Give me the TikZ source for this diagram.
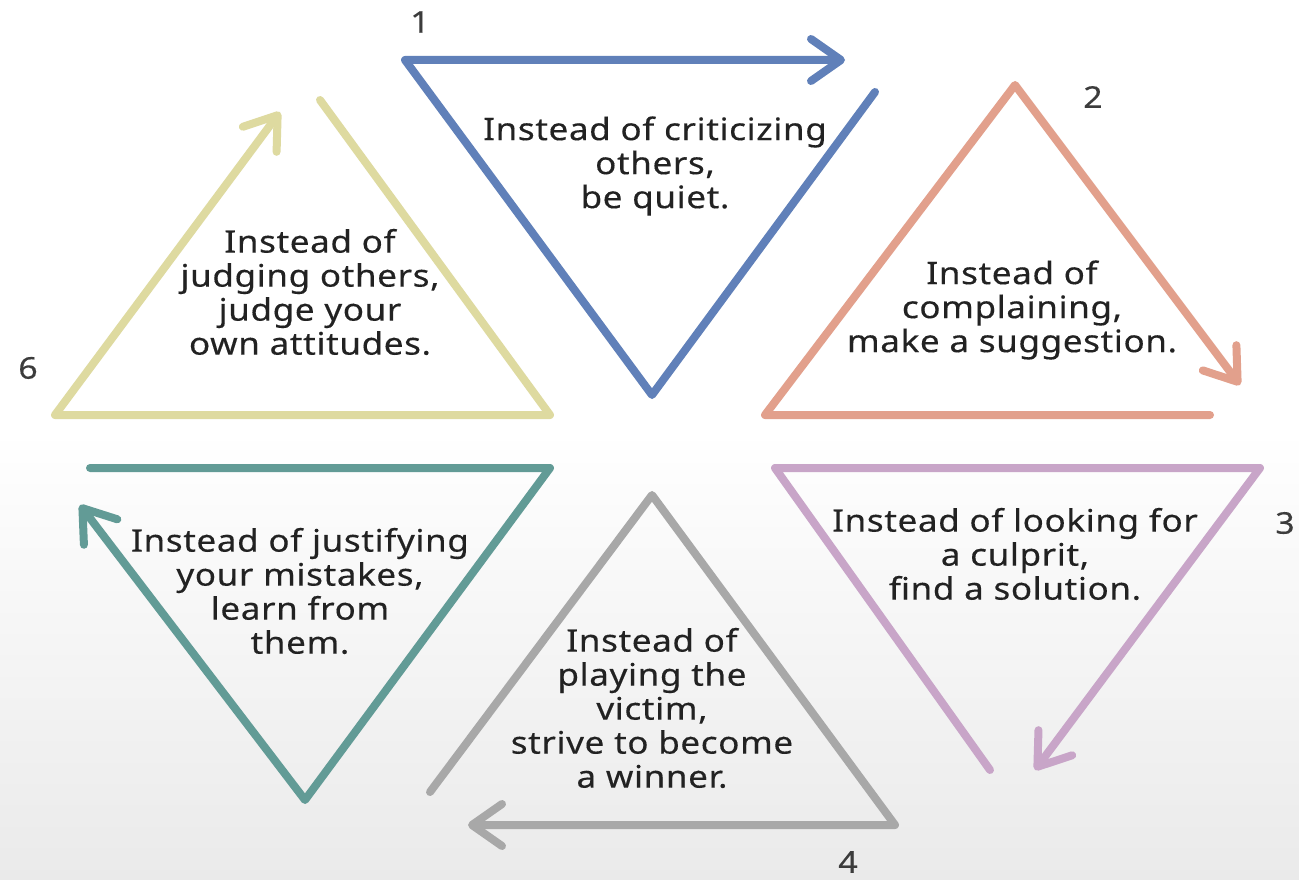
\documentclass[tikz,border=0pt]{standalone}
\usepackage{fontspec}
\setmainfont{Noto Sans}[FakeStretch=1.13,LetterSpace=2,FakeBold=0.3]
\usetikzlibrary{arrows.meta}
\definecolor{cBlue}{RGB}{96,128,185}
\definecolor{cOrange}{RGB}{226,160,140}
\definecolor{cPurple}{RGB}{200,165,200}
\definecolor{cGray}{RGB}{168,168,168}
\definecolor{cTeal}{RGB}{98,155,150}
\definecolor{cYellow}{RGB}{222,218,160}
\definecolor{cText}{RGB}{34,34,34}
\definecolor{cNum}{RGB}{60,60,60}
\definecolor{cBg}{RGB}{234,234,234}
\begin{document}
\begin{tikzpicture}[x=1pt,y=-1pt,
  edge/.style={line width=8pt,line cap=round,line join=round},
  arr/.style={edge,-{Straight Barb[length=30pt,width=42pt,round]}},
  txt/.style={align=center,text=cText,inner sep=0pt,font=\fontsize{31}{34}\selectfont},
  num/.style={text=cNum,inner sep=0pt,font=\fontsize{30}{34}\selectfont}]
\useasboundingbox (0,0) rectangle (1299,880);
\fill[white] (0,0) rectangle (1299,880);
\shade[top color=white,bottom color=cBg] (0,430) rectangle (1299,880);
% 1 blue
\coordinate (b1) at (405,60); \coordinate (b2) at (652,395);
\coordinate (b3) at (875,92); \coordinate (b4) at (845,60);
\draw[arr,cBlue] (b3) -- (b2) -- (b1) -- (b4);
% 2 orange
\coordinate (o1) at (1210,415); \coordinate (o2) at (765,415);
\coordinate (o3) at (1015,85); \coordinate (o4) at (1240,385);
\draw[arr,cOrange] (o1) -- (o2) -- (o3) -- (o4);
% 3 purple
\coordinate (p1) at (990,770); \coordinate (p2) at (775,468);
\coordinate (p3) at (1260,468); \coordinate (p4) at (1035,770);
\draw[arr,cPurple] (p1) -- (p2) -- (p3) -- (p4);
% 4 gray
\coordinate (g1) at (430,792); \coordinate (g2) at (652,495);
\coordinate (g3) at (895,825); \coordinate (g4) at (468,825);
\draw[arr,cGray] (g1) -- (g2) -- (g3) -- (g4);
% 5 teal
\coordinate (t1) at (90,468); \coordinate (t2) at (550,468);
\coordinate (t3) at (305,800); \coordinate (t4) at (80,505);
\draw[arr,cTeal] (t1) -- (t2) -- (t3) -- (t4);
% 6 yellow
\coordinate (y1) at (320,100); \coordinate (y2) at (550,415);
\coordinate (y3) at (55,415); \coordinate (y4) at (280,112);
\draw[arr,cYellow] (y1) -- (y2) -- (y3) -- (y4);
% texts
\node[txt] (x1) at (655,166) {Instead of criticizing\\others,\\be quiet.};
\node[txt] (x2) at (1012,310) {Instead of\\complaining,\\make a suggestion.};
\node[txt] (x3) at (1015,554) {Instead of looking for\\a culprit,\\find a solution.};
\node[txt] (x4) at (652,708) {Instead of\\playing the\\victim,\\strive to become\\a winner.};
\node[txt] (x5) at (300,591) {Instead of justifying\\your mistakes,\\learn from\\them.};
\node[txt] (x6) at (310,292) {Instead of\\judging others,\\judge your\\own attitudes.};
% numbers
\node[num] (n1) at (420,22) {1};
\node[num] (n2) at (1093,97) {2};
\node[num] (n3) at (1285,523) {3};
\node[num] (n4) at (848,862) {4};
\node[num] (n6) at (28,368) {6};
\end{tikzpicture}
\end{document}
